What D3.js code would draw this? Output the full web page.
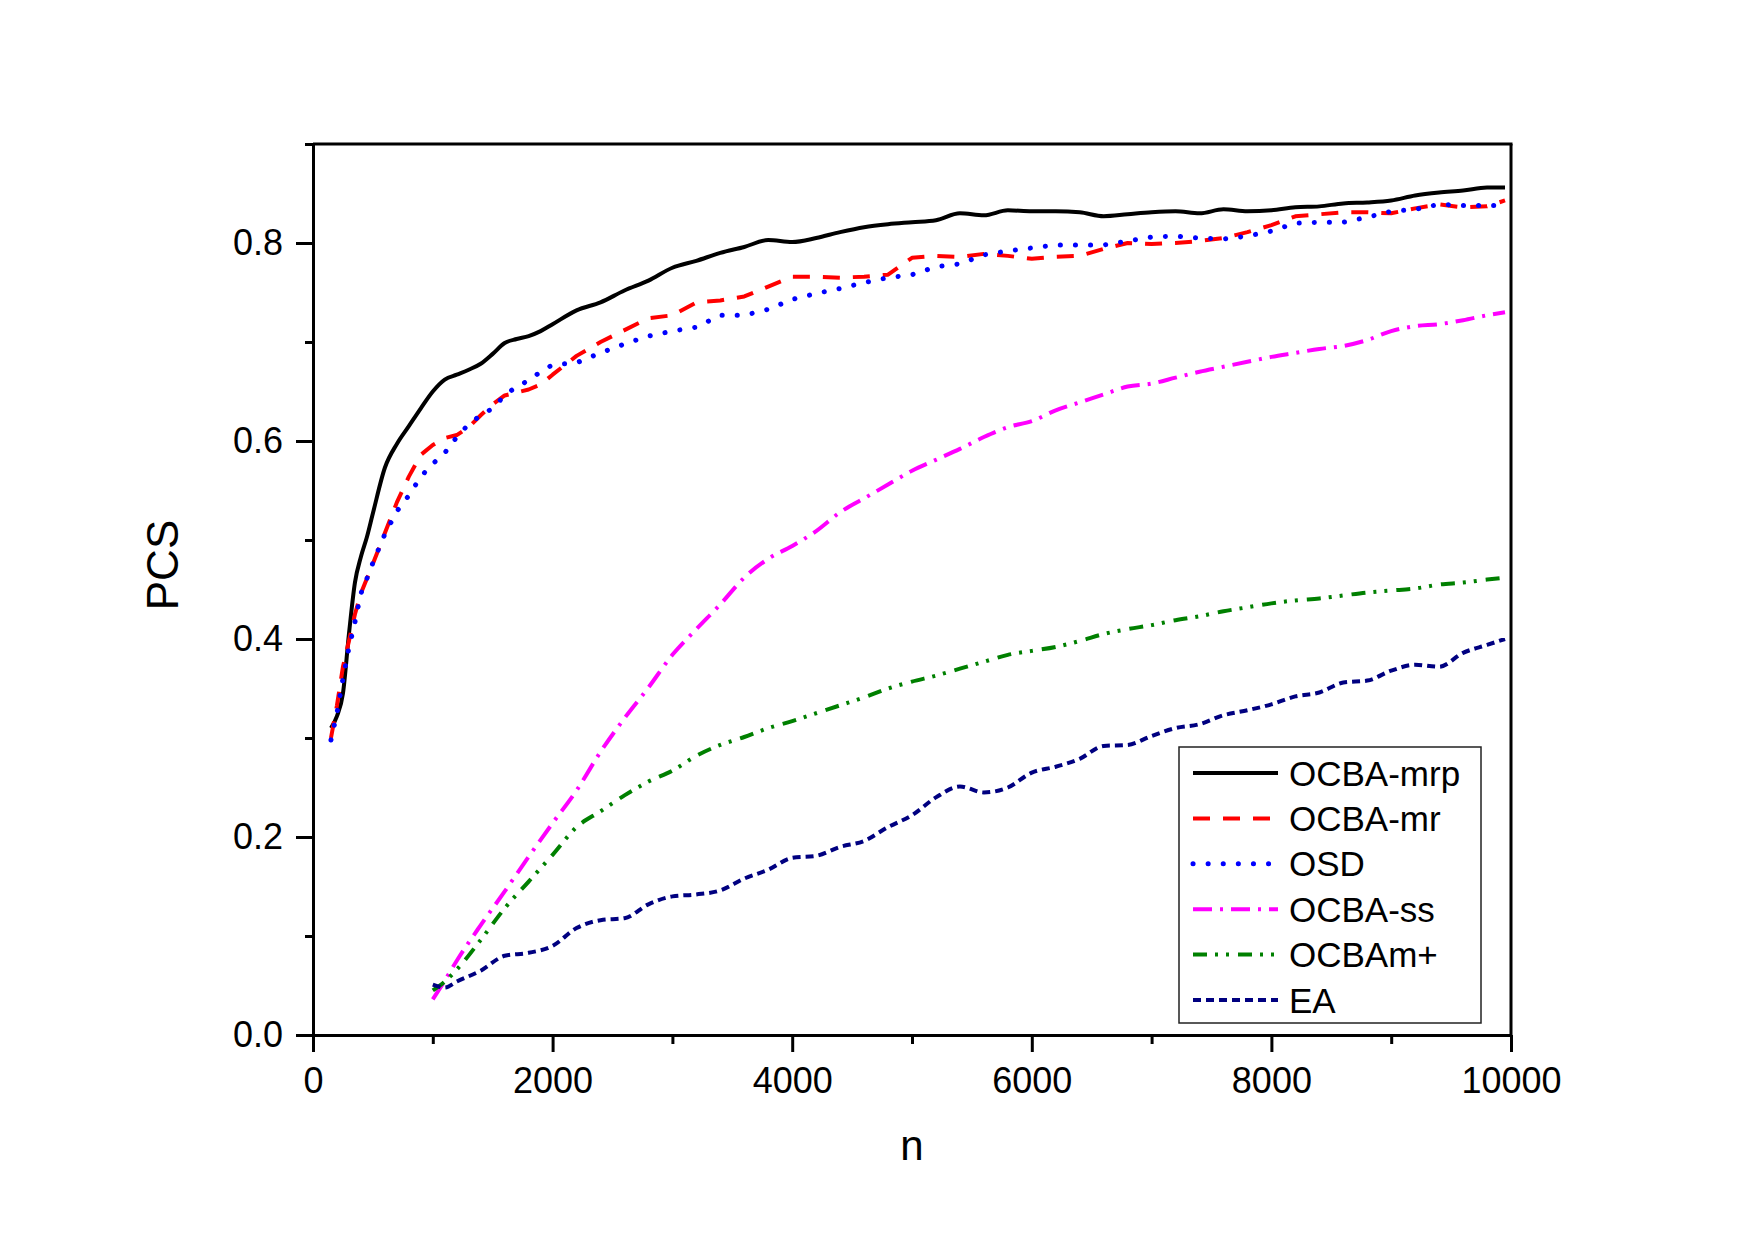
<!doctype html>
<html lang="en">
<head>
  <meta charset="UTF-8">
  <title>PCS vs n</title>
  <script src="https://cdn.jsdelivr.net/npm/d3@7"></script>
  <style>
    body { margin: 0; background: #fff; }
    text { font-family: "Liberation Sans", Arial, sans-serif; }
    .axis path, .axis line { stroke: #000; stroke-width: 3px; fill: none; }
    .axis text { font-size: 36px; fill: #000; }
    path.series { fill: none; }
  </style>
</head>
<body>
<script>
  // x grid for the three upper curves
  var nTop = [150, 200, 250, 300, 350, 400, 450, 500, 600, 700, 800, 900, 1000, 1100, 1200, 1300,
    1400, 1500, 1600, 1700, 1800, 1900, 2000, 2200, 2400, 2600, 2800, 3000, 3200, 3400, 3600, 3800,
    4000, 4200, 4400, 4600, 4800, 5000, 5200, 5400, 5600, 5800, 6000, 6200, 6400, 6600, 6800, 7000,
    7200, 7400, 7600, 7800, 8000, 8200, 8400, 8600, 8800, 9000, 9200, 9400, 9600, 9800, 9950];

  var ocbaMrp = [0.310, 0.322, 0.345, 0.405, 0.457, 0.483, 0.503, 0.527, 0.573, 0.597, 0.615, 0.633, 0.650, 0.662, 0.667, 0.672,
    0.678, 0.688, 0.699, 0.703, 0.706, 0.711, 0.718, 0.732, 0.740, 0.752, 0.762, 0.775, 0.782, 0.790, 0.796, 0.803,
    0.801, 0.805, 0.811, 0.816, 0.819, 0.821, 0.823, 0.830, 0.828, 0.833, 0.832, 0.832, 0.831, 0.827, 0.829, 0.831,
    0.832, 0.830, 0.834, 0.832, 0.833, 0.836, 0.837, 0.840, 0.841, 0.843, 0.848, 0.851, 0.853, 0.856, 0.856];

  var ocbaMr = [0.300, 0.333, 0.372, 0.398, 0.425, 0.446, 0.461, 0.476, 0.507, 0.538, 0.564, 0.586, 0.596, 0.603, 0.606, 0.614,
    0.626, 0.637, 0.646, 0.649, 0.652, 0.657, 0.667, 0.686, 0.700, 0.712, 0.724, 0.727, 0.740, 0.742, 0.746, 0.756,
    0.766, 0.766, 0.765, 0.766, 0.768, 0.785, 0.787, 0.786, 0.789, 0.787, 0.784, 0.786, 0.787, 0.794, 0.800, 0.799,
    0.800, 0.802, 0.805, 0.811, 0.818, 0.827, 0.829, 0.831, 0.831, 0.830, 0.835, 0.839, 0.836, 0.837, 0.843];

  var osd = [0.298, 0.325, 0.360, 0.391, 0.417, 0.446, 0.461, 0.477, 0.506, 0.529, 0.545, 0.564, 0.577, 0.588, 0.604, 0.617,
    0.626, 0.633, 0.646, 0.655, 0.661, 0.670, 0.677, 0.679, 0.689, 0.698, 0.706, 0.711, 0.715, 0.727, 0.727, 0.733,
    0.743, 0.749, 0.754, 0.760, 0.765, 0.768, 0.776, 0.779, 0.788, 0.792, 0.795, 0.798, 0.798, 0.798, 0.802, 0.806,
    0.807, 0.805, 0.804, 0.807, 0.812, 0.820, 0.821, 0.821, 0.826, 0.832, 0.834, 0.839, 0.838, 0.838, 0.838];

  // x grid for the three lower curves
  var nLow = [1000, 1100, 1200, 1400, 1600, 1800, 2000, 2200, 2400, 2600, 2800, 3000, 3200, 3400, 3600, 3800,
    4000, 4200, 4400, 4600, 4800, 5000, 5200, 5400, 5600, 5800, 6000, 6200, 6400, 6600, 6800, 7000,
    7200, 7400, 7600, 7800, 8000, 8200, 8400, 8600, 8800, 9000, 9200, 9400, 9600, 9800, 9950];

  var ocbaSs = [0.036, 0.055, 0.075, 0.111, 0.145, 0.180, 0.214, 0.247, 0.286, 0.320, 0.351, 0.384, 0.410, 0.435, 0.462, 0.481,
    0.494, 0.509, 0.528, 0.542, 0.556, 0.570, 0.581, 0.592, 0.604, 0.614, 0.620, 0.631, 0.639, 0.647, 0.655, 0.658,
    0.664, 0.670, 0.675, 0.680, 0.685, 0.689, 0.693, 0.696, 0.702, 0.711, 0.716, 0.718, 0.722, 0.727, 0.730];

  var ocbaMplus = [0.045, 0.054, 0.066, 0.096, 0.128, 0.155, 0.182, 0.210, 0.226, 0.242, 0.256, 0.267, 0.282, 0.293, 0.301, 0.310,
    0.317, 0.325, 0.333, 0.341, 0.350, 0.357, 0.363, 0.370, 0.377, 0.384, 0.388, 0.392, 0.398, 0.405, 0.410, 0.414,
    0.419, 0.423, 0.428, 0.432, 0.436, 0.439, 0.441, 0.444, 0.447, 0.449, 0.451, 0.455, 0.457, 0.460, 0.462];

  var ea = [0.051, 0.048, 0.054, 0.065, 0.080, 0.083, 0.090, 0.108, 0.116, 0.118, 0.132, 0.140, 0.142, 0.146, 0.158, 0.167,
    0.179, 0.181, 0.190, 0.196, 0.210, 0.222, 0.240, 0.251, 0.245, 0.250, 0.265, 0.271, 0.279, 0.292, 0.293, 0.302,
    0.310, 0.314, 0.323, 0.328, 0.334, 0.342, 0.346, 0.356, 0.358, 0.368, 0.374, 0.372, 0.386, 0.394, 0.400];

  var xMajor = [0, 2000, 4000, 6000, 8000, 10000];
  var xMinor = [1000, 3000, 5000, 7000, 9000];
  var yMajor = [0, 0.2, 0.4, 0.6, 0.8];
  var yMinor = [0.1, 0.3, 0.5, 0.7, 0.9];

  var series = [
    { name: 'OCBA-mrp', n: nTop, v: ocbaMrp, color: '#000000', dash: null, smooth: true },
    { name: 'OCBA-mr', n: nTop, v: ocbaMr, color: '#ff0000', dash: '17,13' },
    { name: 'OSD', n: nTop, v: osd, color: '#0000ff', dash: '0.1,15', cap: 'round' },
    { name: 'OCBA-ss', n: nLow, v: ocbaSs, color: '#ff00ff', dash: '19,8,3,8', smooth: true },
    { name: 'OCBAm+', n: nLow, v: ocbaMplus, color: '#008000', dash: '14,8,3,8,3,9', smooth: true },
    { name: 'EA', n: nLow, v: ea, color: '#000080', dash: '8,5', smooth: true }
  ];

  var width = 1755, height = 1242;
  var plotLeft = 313, plotRight = 1511, plotTop = 144, plotBottom = 1035;

  var svg = d3.select('body').append('svg')
    .attr('width', width)
    .attr('height', height);

  var xScale = d3.scaleLinear().domain([0, 10000]).range([plotLeft, plotRight]);
  var yScale = d3.scaleLinear().domain([0, 0.9]).range([plotBottom, plotTop]);

  // frame: top and right
  svg.append('line')
    .attr('x1', plotLeft).attr('y1', plotTop).attr('x2', plotRight + 1.5).attr('y2', plotTop)
    .attr('stroke', '#000').attr('stroke-width', 3);
  svg.append('line')
    .attr('x1', plotRight).attr('y1', plotTop).attr('x2', plotRight).attr('y2', plotBottom)
    .attr('stroke', '#000').attr('stroke-width', 3);

  svg.append('g')
    .attr('class', 'axis')
    .attr('transform', 'translate(0,' + plotBottom + ')')
    .call(d3.axisBottom(xScale).tickValues(xMajor).tickSize(17).tickSizeOuter(0).tickPadding(15)
      .tickFormat(d3.format('d')));

  svg.append('g')
    .attr('class', 'axis')
    .attr('transform', 'translate(0,' + plotBottom + ')')
    .call(d3.axisBottom(xScale).tickValues(xMinor).tickSize(9).tickSizeOuter(0).tickFormat(''))
    .select('.domain').remove();

  svg.append('g')
    .attr('class', 'axis')
    .attr('transform', 'translate(' + plotLeft + ',0)')
    .call(d3.axisLeft(yScale).tickValues(yMajor).tickSize(17).tickSizeOuter(0).tickPadding(13)
      .tickFormat(d3.format('.1f')));

  svg.append('g')
    .attr('class', 'axis')
    .attr('transform', 'translate(' + plotLeft + ',0)')
    .call(d3.axisLeft(yScale).tickValues(yMinor).tickSize(8).tickSizeOuter(0).tickFormat(''))
    .select('.domain').remove();

  var lineLinear = d3.line()
    .x(function(d) { return xScale(d[0]); })
    .y(function(d) { return yScale(d[1]); });

  var lineSmooth = d3.line()
    .curve(d3.curveMonotoneX)
    .x(function(d) { return xScale(d[0]); })
    .y(function(d) { return yScale(d[1]); });

  svg.selectAll('path.series')
    .data(series)
    .enter().append('path')
    .attr('class', 'series')
    .attr('d', function(s) { return (s.smooth ? lineSmooth : lineLinear)(d3.zip(s.n, s.v)); })
    .attr('stroke', function(s) { return s.color; })
    .attr('stroke-dasharray', function(s) { return s.dash; })
    .attr('stroke-linecap', function(s) { return s.cap || 'butt'; })
    .attr('stroke-linejoin', 'round')
    .attr('stroke-width', function(s) { return s.cap ? 5 : 4; });

  // axis titles
  svg.append('text')
    .attr('x', (plotLeft + plotRight) / 2)
    .attr('y', 1160)
    .attr('text-anchor', 'middle')
    .attr('font-size', '42px')
    .text('n');

  svg.append('text')
    .attr('transform', 'translate(178,565) rotate(-90)')
    .attr('text-anchor', 'middle')
    .attr('font-size', '44px')
    .text('PCS');

  // legend
  var legend = svg.append('g');
  legend.append('rect')
    .attr('x', 1179).attr('y', 747)
    .attr('width', 302).attr('height', 276)
    .attr('fill', '#fff')
    .attr('stroke', '#222').attr('stroke-width', 1.5);

  var item = legend.selectAll('g.item')
    .data(series)
    .enter().append('g')
    .attr('class', 'item')
    .attr('transform', function(d, i) { return 'translate(0,' + (773 + i * 45.4) + ')'; });

  item.append('line')
    .attr('x1', 1193).attr('x2', 1278)
    .attr('stroke', function(s) { return s.color; })
    .attr('stroke-dasharray', function(s) { return s.dash; })
    .attr('stroke-linecap', function(s) { return s.cap || 'butt'; })
    .attr('stroke-width', function(s) { return s.cap ? 5 : 4; });

  item.append('text')
    .attr('x', 1289)
    .attr('dy', '0.36em')
    .attr('font-size', '35px')
    .text(function(s) { return s.name; });
</script>
</body>
</html>
